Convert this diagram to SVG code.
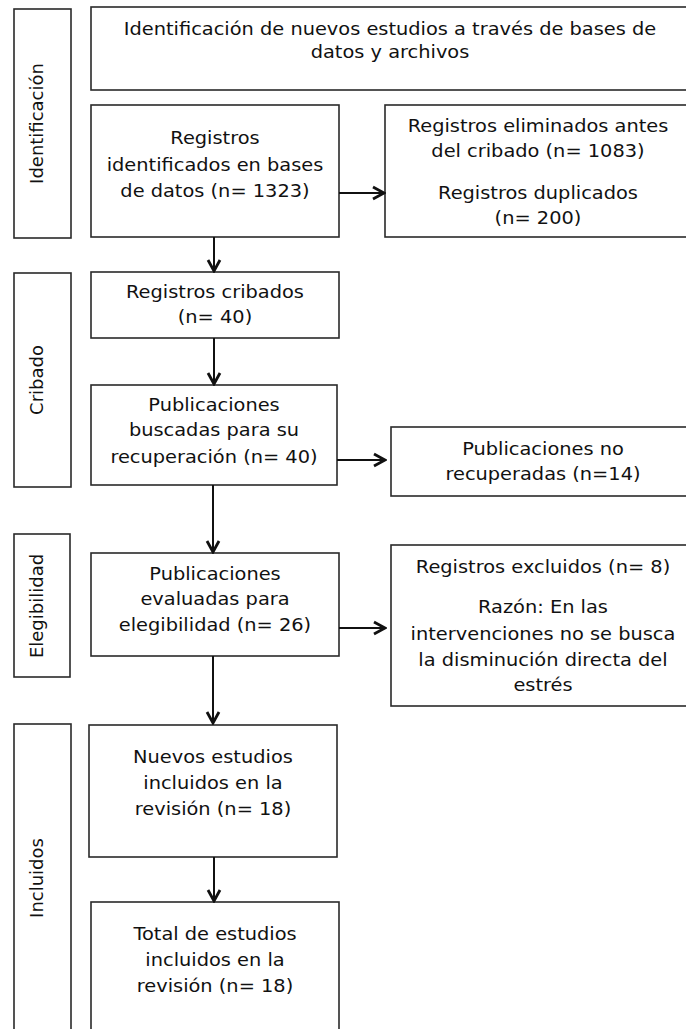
<svg xmlns="http://www.w3.org/2000/svg" width="686" height="1029" viewBox="0 0 686 1029">
<style>
.b { fill: #fff; stroke: #2a2a2a; stroke-width: 1.6; }
.t { font-family: "DejaVu Sans", Verdana, sans-serif; font-size: 17px; fill: #111; text-anchor: middle; transform-box: fill-box; transform-origin: center; transform: scaleX(1.14); }
.v { font-family: "DejaVu Sans", Verdana, sans-serif; font-size: 18px; fill: #111; text-anchor: middle; }
.c { stroke: #111; stroke-width: 2; fill: none; marker-end: url(#ah); }
</style>
<defs>
<marker id="ah" markerUnits="userSpaceOnUse" viewBox="0 0 16 16" markerWidth="16" markerHeight="16" refX="14" refY="8" orient="auto">
<path d="M3,2 L14,8 L3,14" fill="none" stroke="#111" stroke-width="2.8"/>
</marker>
</defs>
<rect x="0" y="0" width="686" height="1029" fill="#fff"/>

<g id="phase-identificacion">
<rect class="b" x="14" y="9" width="57" height="229"/>
<text class="v" x="43" y="123.5" transform="rotate(-90 43 123.5)">Identificación</text>
</g>
<g id="phase-cribado">
<rect class="b" x="14" y="273" width="57" height="214"/>
<text class="v" x="43" y="380" transform="rotate(-90 43 380)">Cribado</text>
</g>
<g id="phase-elegibilidad">
<rect class="b" x="14" y="534" width="56" height="143"/>
<text class="v" x="43" y="606" transform="rotate(-90 43 606)">Elegibilidad</text>
</g>
<g id="phase-incluidos">
<rect class="b" x="14" y="724" width="57" height="315"/>
<text class="v" x="43" y="878" transform="rotate(-90 43 878)">Incluidos</text>
</g>

<g id="header">
<rect class="b" x="91" y="7" width="605" height="83"/>
<text class="t" x="390" y="35">Identificación de nuevos estudios a través de bases de</text>
<text class="t" x="390" y="58">datos y archivos</text>
</g>

<g id="registros-identificados">
<rect class="b" x="91" y="105" width="248" height="132"/>
<text class="t" x="215" y="144">Registros</text>
<text class="t" x="215" y="171">identificados en bases</text>
<text class="t" x="215" y="197">de datos (n= 1323)</text>
</g>

<g id="registros-eliminados">
<rect class="b" x="385" y="105" width="310" height="132"/>
<text class="t" x="538" y="132">Registros eliminados antes</text>
<text class="t" x="538" y="157">del cribado (n= 1083)</text>
<text class="t" x="538" y="199">Registros duplicados</text>
<text class="t" x="538" y="224">(n= 200)</text>
</g>

<g id="registros-cribados">
<rect class="b" x="91" y="272" width="248" height="66"/>
<text class="t" x="215" y="298">Registros cribados</text>
<text class="t" x="215" y="323">(n= 40)</text>
</g>

<g id="publicaciones-buscadas">
<rect class="b" x="91" y="385" width="246" height="100"/>
<text class="t" x="214" y="411">Publicaciones</text>
<text class="t" x="214" y="436">buscadas para su</text>
<text class="t" x="214" y="463">recuperación (n= 40)</text>
</g>

<g id="publicaciones-no-recuperadas">
<rect class="b" x="391" y="427" width="310" height="69"/>
<text class="t" x="543" y="455">Publicaciones no</text>
<text class="t" x="543" y="480">recuperadas (n=14)</text>
</g>

<g id="publicaciones-evaluadas">
<rect class="b" x="91" y="553" width="248" height="103"/>
<text class="t" x="215" y="580">Publicaciones</text>
<text class="t" x="215" y="605">evaluadas para</text>
<text class="t" x="215" y="631">elegibilidad (n= 26)</text>
</g>

<g id="registros-excluidos">
<rect class="b" x="391" y="545" width="310" height="161"/>
<text class="t" x="543" y="573">Registros excluidos (n= 8)</text>
<text class="t" x="543" y="613">Razón: En las</text>
<text class="t" x="543" y="640">intervenciones no se busca</text>
<text class="t" x="543" y="666">la disminución directa del</text>
<text class="t" x="543" y="691">estrés</text>
</g>

<g id="nuevos-estudios">
<rect class="b" x="89" y="725" width="248" height="132"/>
<text class="t" x="213" y="763">Nuevos estudios</text>
<text class="t" x="213" y="789">incluidos en la</text>
<text class="t" x="213" y="815">revisión (n= 18)</text>
</g>

<g id="total-estudios">
<rect class="b" x="91" y="902" width="248" height="140"/>
<text class="t" x="215" y="940">Total de estudios</text>
<text class="t" x="215" y="966">incluidos en la</text>
<text class="t" x="215" y="992">revisión (n= 18)</text>
</g>

<g id="connectors">
<line class="c" x1="214" y1="237" x2="214" y2="271"/>
<line class="c" x1="339" y1="193" x2="384" y2="193"/>
<line class="c" x1="214" y1="338" x2="214" y2="384"/>
<line class="c" x1="337" y1="460" x2="385" y2="460"/>
<line class="c" x1="213" y1="485" x2="213" y2="552"/>
<line class="c" x1="339" y1="628" x2="385" y2="628"/>
<line class="c" x1="213" y1="656" x2="213" y2="723"/>
<line class="c" x1="214" y1="857" x2="214" y2="901"/>
</g>
</svg>
